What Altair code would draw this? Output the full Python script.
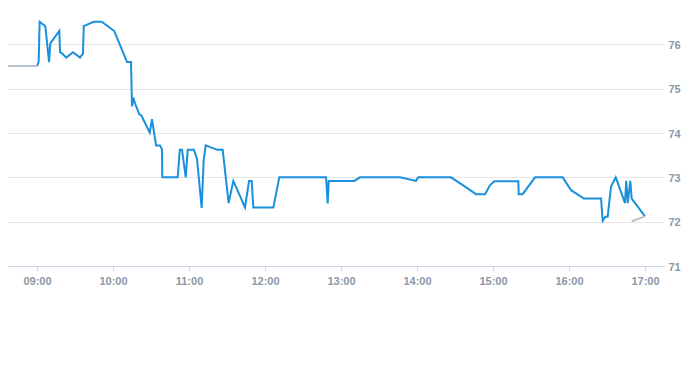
import altair as alt
import pandas as pd

DAY = "2024-01-02T"

main_times = ["09:00:00", "09:01:18", "09:02:06", "09:06:36", "09:09:30", "09:10:30", "09:17:36",
              "09:18:12", "09:19:42", "09:23:06", "09:28:24", "09:33:54", "09:36:18", "09:36:54",
              "09:44:48", "09:51:06", "10:01:00", "10:11:06", "10:14:12", "10:15:00", "10:16:00",
              "10:17:24", "10:20:48", "10:22:18", "10:29:00", "10:30:48", "10:34:00", "10:37:06",
              "10:38:42", "10:38:54", "10:51:06", "10:52:42", "10:54:30", "10:57:24", "10:59:00",
              "11:03:54", "11:06:18", "11:10:00", "11:11:36", "11:13:12", "11:22:18", "11:26:36",
              "11:31:18", "11:35:00", "11:44:12", "11:47:24", "11:49:30", "11:50:48", "12:06:36",
              "12:11:18", "12:48:12", "12:49:30", "12:50:18", "13:10:30", "13:15:00", "13:46:36",
              "13:59:12", "14:01:00", "14:26:48", "14:35:18", "14:46:36", "14:53:42", "14:57:36",
              "15:01:00", "15:20:00", "15:20:18", "15:23:24", "15:33:12", "15:55:00", "16:01:36",
              "16:11:48", "16:25:18", "16:26:36", "16:28:42", "16:30:30", "16:33:12", "16:34:00",
              "16:36:54", "16:44:12", "16:45:12", "16:46:24", "16:48:24", "16:49:30", "17:00:00"]
main_values = [75.51, 75.6, 76.51, 76.41, 75.6, 76.02, 76.3,
               75.82, 75.8, 75.7, 75.82, 75.7, 75.79, 76.41,
               76.51, 76.51, 76.3, 75.6, 75.6, 74.6, 74.8,
               74.67, 74.42, 74.4, 74.01, 74.31, 73.72, 73.72,
               73.63, 73.0, 73.0, 73.62, 73.62, 73.0, 73.62,
               73.62, 73.42, 72.31, 73.39, 73.72, 73.62, 73.62,
               72.42, 72.92, 72.32, 72.92, 72.92, 72.32, 72.32,
               73.0, 73.0, 72.41, 72.92, 72.92, 73.0, 73.0,
               72.92, 73.0, 73.0, 72.84, 72.62, 72.62, 72.82,
               72.91, 72.91, 72.62, 72.62, 73.0, 73.0, 72.71,
               72.52, 72.52, 72.02, 72.11, 72.11, 72.8, 72.84,
               73.0, 72.42, 72.92, 72.42, 72.92, 72.52, 72.12]

pre_times = ["08:30:00", "09:00:00"]
pre_values = [75.51, 75.51]
post_times = ["16:49:30", "17:00:00"]
post_values = [72.01, 72.12]

y_ticks = [71, 72, 73, 74, 75, 76]
x_hours = [9, 10, 11, 12, 13, 14, 15, 16, 17]

rows = []
for t, v in zip(main_times, main_values):
    rows.append({"time": DAY + t, "value": v, "series": "main", "seg": "main"})
for t, v in zip(pre_times, pre_values):
    rows.append({"time": DAY + t, "value": v, "series": "ext", "seg": "pre"})
for t, v in zip(post_times, post_values):
    rows.append({"time": DAY + t, "value": v, "series": "ext", "seg": "post"})
df = pd.DataFrame(rows)

def dt(h, m=0):
    return alt.DateTime(year=2024, month=1, date=2, hours=h, minutes=m)

LABEL_FONT = "Liberation Sans"
LABEL_COLOR = "#8c98a5"

chart = alt.Chart(df).mark_line(strokeWidth=2, interpolate="linear").encode(
    x=alt.X("time:T",
            scale=alt.Scale(domain=[dt(8, 30), dt(17, 15)], nice=False),
            axis=alt.Axis(title=None, format="%H:%M", values=[dt(h) for h in x_hours],
                          grid=False, domainColor="#ccd6eb", tickColor="#ccd6eb",
                          tickSize=5, labelPadding=4, labelColor=LABEL_COLOR,
                          labelFont=LABEL_FONT, labelFontSize=11, labelFontWeight="bold")),
    y=alt.Y("value:Q",
            scale=alt.Scale(domain=[71, 77], nice=False, zero=False),
            axis=alt.Axis(title=None, orient="right", values=y_ticks, grid=True,
                          gridColor="#e6e6e6", domain=False, ticks=False,
                          labelPadding=4, labelOffset=1, labelColor=LABEL_COLOR,
                          labelFont=LABEL_FONT, labelFontSize=11, labelFontWeight="bold")),
    color=alt.Color("series:N", scale=alt.Scale(domain=["main", "ext"], range=["#1890dc", "#b8c3cf"]),
                    legend=None),
    detail="seg:N",
    order=alt.Order("time:T"),
).properties(
    width=665, height=266,
    autosize=alt.AutoSizeParams(type="none"),
    padding={"left": -9, "top": -8, "right": 20, "bottom": 30},
).configure_view(stroke=None)

chart.save("out.html", embed_options={"renderer": "svg", "actions": False})
